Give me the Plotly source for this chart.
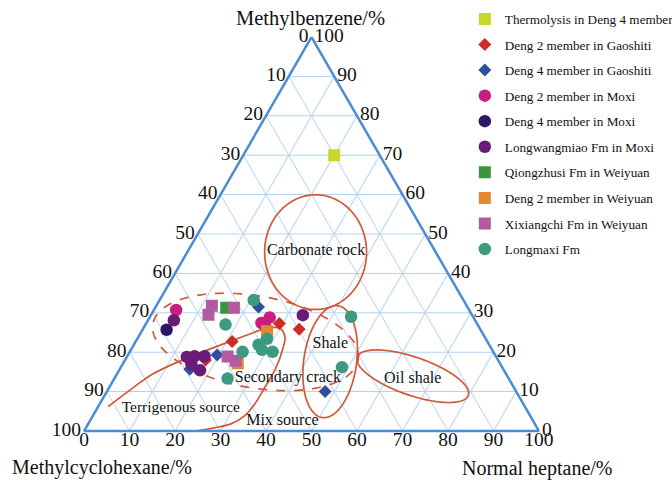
import numpy as np
import plotly.graph_objects as go

# Ternary components in percent:
#   a = Methylbenzene (top), b = Methylcyclohexane (bottom-left), c = Normal heptane (bottom-right)
TICKS = [0, 10, 20, 30, 40, 50, 60, 70, 80, 90, 100]

thermo_mb = [70.0]
thermo_mch = [10.0]
thermo_nh = [20.0]

gst_d2_mb = [27.3, 25.8, 22.7, 18.0]
gst_d2_mch = [43.4, 39.8, 56.1, 64.3]
gst_d2_nh = [29.3, 34.4, 21.2, 17.7]

gst_d4_mb = [31.5, 19.3, 15.7, 10.0]
gst_d4_mch = [45.9, 61.1, 68.9, 42.0]
gst_d4_nh = [22.6, 19.6, 15.4, 48.0]

mx_d2_mb = [30.7, 27.4, 28.8, 26.5]
mx_d2_mch = [64.4, 47.3, 44.8, 46.9]
mx_d2_nh = [4.9, 25.3, 26.4, 26.6]

mx_d4_mb = [25.7]
mx_d4_mch = [69.0]
mx_d4_nh = [5.3]

lwm_mb = [28.1, 29.4, 19.0, 19.0, 17.0, 15.4, 18.8]
lwm_mch = [66.2, 37.2, 66.2, 64.0, 67.9, 66.8, 68.0]
lwm_nh = [5.7, 33.4, 14.8, 17.0, 15.1, 17.8, 13.2]

qzs_mb = [31.3]
qzs_mch = [53.1]
qzs_nh = [15.6]

wy_d2_mb = [25.3, 17.2]
wy_d2_mch = [47.1, 57.6]
wy_d2_nh = [27.6, 25.2]

xxc_mb = [31.8, 29.5, 31.3, 18.9, 17.8]
xxc_mch = [56.0, 57.9, 51.4, 59.0, 57.8]
xxc_nh = [12.2, 12.6, 17.3, 22.1, 24.4]

lmx_mb = [33.2, 27.0, 29.0, 21.9, 23.4, 20.1, 20.1, 13.3, 16.2, 20.6]
lmx_mch = [46.1, 55.4, 26.8, 50.7, 48.1, 48.5, 55.1, 61.8, 35.2, 50.6]
lmx_nh = [20.7, 17.6, 44.2, 27.4, 28.5, 31.4, 24.8, 24.9, 48.6, 28.8]

# Source boundary (terrigenous / mix source), as ternary points
bound_mb = [6.2, 10.5, 14.4, 18.3, 21.6, 24.7, 26.2, 26.0, 23.9, 20.3, 15.7, 11.1, 6.9, 3.9, 1.8, 0.8, 0.0]
bound_mch = [91.6, 84.5, 77.8, 68.7, 59.7, 51.0, 46.4, 43.9, 43.9, 46.3, 50.1, 54.7, 59.0, 62.7, 66.8, 71.0, 75.4]
bound_nh = [2.2, 5.0, 7.8, 13.0, 18.7, 24.3, 27.4, 30.1, 32.2, 33.4, 34.2, 34.2, 34.1, 33.4, 31.4, 28.2, 24.6]

# Region labels
label_text = ["Carbonate rock", "Shale", "Secondary crack", "Oil shale",
              "Terrigenous source", "Mix source"]
label_mb = [45.8, 22.1, 13.4, 13.1, 5.7, 2.6]
label_mch = [26.1, 34.8, 48.5, 21.2, 75.9, 55.1]
label_nh = [28.1, 43.1, 38.1, 65.7, 18.4, 42.3]
label_size = [16, 16, 16, 16, 15.5, 16]

SERIF = "Liberation Serif, Times New Roman, serif"
REGION_COLOR = "#d2583a"
TICK_FONT = dict(family=SERIF, size=19.5, color="#111111")
H = np.sqrt(3) / 2


def ellipse(center, rx, ry, tilt_deg, n=240):
    """Ellipse in the unit-side triangle frame, returned as ternary percentages."""
    a0, b0, c0 = center
    x0 = c0 / 100 + a0 / 200
    y0 = a0 / 100 * H
    t = np.linspace(0, 2 * np.pi, n)
    th = np.radians(tilt_deg)
    ex, ey = rx * np.cos(t), ry * np.sin(t)
    x = x0 + ex * np.cos(th) - ey * np.sin(th)
    y = y0 + ex * np.sin(th) + ey * np.cos(th)
    a = y / H
    c = x - a / 2
    b = 1 - a - c
    return a * 100, b * 100, c * 100


fig = go.Figure()

# region outlines
regions = [
    ((45.4, 26.4, 28.2), 0.112, 0.126, 0, "solid"),     # carbonate rock
    ((17.6, 37.1, 45.3), 0.058, 0.124, -8, "solid"),    # shale
    ((13.9, 20.8, 65.3), 0.129, 0.042, -19, "solid"),   # oil shale
    ((22.6, 51.0, 26.4), 0.229, 0.101, -10, "dash"),    # secondary crack
]
for center, rx, ry, tilt, dash in regions:
    ea, eb, ec = ellipse(center, rx, ry, tilt)
    fig.add_trace(go.Scatterternary(
        a=ea, b=eb, c=ec, mode="lines", showlegend=False, hoverinfo="skip",
        line=dict(color=REGION_COLOR, width=1.7, dash=dash)))

fig.add_trace(go.Scatterternary(
    a=bound_mb, b=bound_mch, c=bound_nh, mode="lines", showlegend=False,
    hoverinfo="skip",
    line=dict(color=REGION_COLOR, width=1.7, shape="spline", smoothing=1.0)))

fig.add_trace(go.Scatterternary(
    a=label_mb, b=label_mch, c=label_nh, mode="text", text=label_text,
    textposition="middle center", showlegend=False, hoverinfo="skip",
    textfont=dict(family=SERIF, size=label_size, color="#111111")))

# n-heptane scale along the bottom edge, set tight under the axis line
fig.add_trace(go.Scatterternary(
    a=[0 for v in TICKS], b=[100 - v for v in TICKS], c=TICKS,
    mode="text", text=[str(v) for v in TICKS], textposition="bottom center",
    textfont=TICK_FONT, cliponaxis=False, showlegend=False, hoverinfo="skip"))

series = [
    ("Thermolysis in Deng 4 member", thermo_mb, thermo_mch, thermo_nh, "square", "#c8d82a", 12),
    ("Deng 2 member in Gaoshiti", gst_d2_mb, gst_d2_mch, gst_d2_nh, "diamond", "#cc2c28", 10),
    ("Deng 4 member in Gaoshiti", gst_d4_mb, gst_d4_mch, gst_d4_nh, "diamond", "#2f4f9c", 10),
    ("Deng 2 member in Moxi", mx_d2_mb, mx_d2_mch, mx_d2_nh, "circle", "#c81e7e", 12.5),
    ("Deng 4 member in Moxi", mx_d4_mb, mx_d4_mch, mx_d4_nh, "circle", "#2b1867", 12.5),
    ("Longwangmiao Fm in Moxi", lwm_mb, lwm_mch, lwm_nh, "circle", "#6a1b78", 12.5),
    ("Qiongzhusi Fm in Weiyuan", qzs_mb, qzs_mch, qzs_nh, "square", "#3a963a", 12),
    ("Deng 2 member in Weiyuan", wy_d2_mb, wy_d2_mch, wy_d2_nh, "square", "#e2882e", 12),
    ("Xixiangchi Fm in Weiyuan", xxc_mb, xxc_mch, xxc_nh, "square", "#b05c9e", 12),
    ("Longmaxi Fm", lmx_mb, lmx_mch, lmx_nh, "circle", "#3c9a7e", 12.5),
]
for i, (name, a, b, c, sym, col, size) in enumerate(series):
    fig.add_trace(go.Scatterternary(
        a=a, b=b, c=c, mode="markers", name=name, legendgroup=f"g{i}",
        marker=dict(symbol=sym, color=col, size=size, line=dict(width=0))))

axis_common = dict(
    tickmode="array", tickvals=TICKS, ticks="", showgrid=True,
    gridcolor="#b3d3ef", gridwidth=1, linecolor="#4a8cd6", linewidth=2.5,
    tickfont=TICK_FONT, title=dict(text=""), min=0,
)

fig.update_layout(
    width=672, height=480,
    margin=dict(l=84, r=133, t=0, b=49, autoexpand=False),
    paper_bgcolor="white",
    font=dict(family=SERIF, color="#111111"),
    ternary=dict(
        sum=100, bgcolor="white",
        domain=dict(x=[0, 1], y=[0, 394 / 431]),
        aaxis=dict(axis_common, ticktext=[str(100 - v) for v in TICKS]),
        baxis=dict(axis_common, showticklabels=False),
        caxis=dict(axis_common, ticktext=[str(100 - v) for v in TICKS]),
    ),
    legend=dict(
        x=0.837, y=0.991, xanchor="left", yanchor="top",
        font=dict(family=SERIF, size=13.2, color="#111111"),
        tracegroupgap=5.4, bgcolor="rgba(0,0,0,0)", itemclick=False,
    ),
    annotations=[
        dict(text="Methylbenzene/%", x=0.497, y=0.956, xref="paper", yref="paper",
             showarrow=False, font=dict(size=20.5), xanchor="center", yanchor="middle"),
        dict(text="Methylcyclohexane/%", x=0.040, y=-0.085, xref="paper", yref="paper",
             showarrow=False, font=dict(size=20), xanchor="center", yanchor="middle"),
        dict(text="Normal heptane/%", x=0.996, y=-0.088, xref="paper", yref="paper",
             showarrow=False, font=dict(size=20), xanchor="center", yanchor="middle"),
    ],
)

fig.write_html("out.html")
